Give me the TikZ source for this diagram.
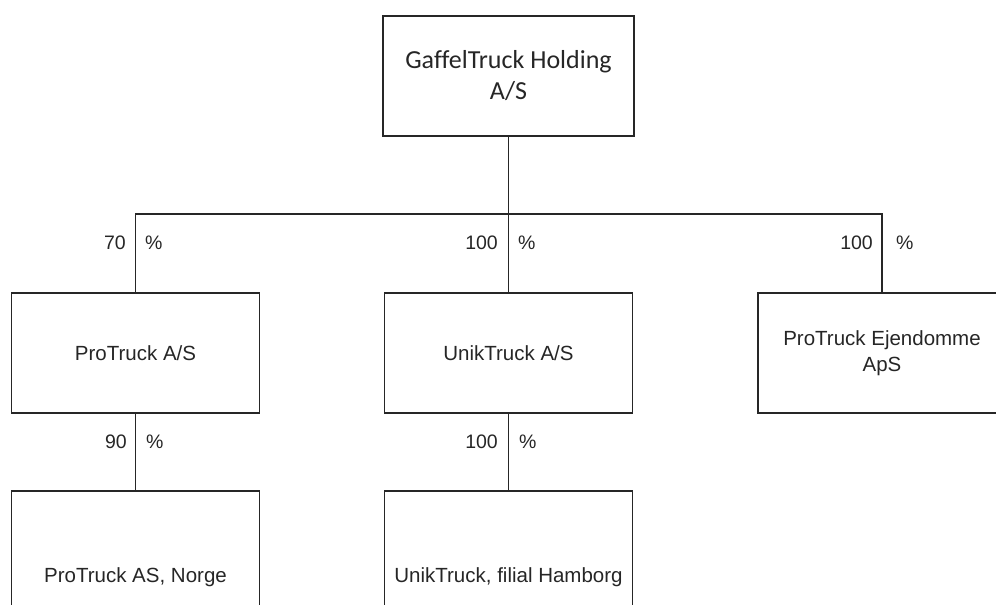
\documentclass[tikz,border=0pt]{standalone}
\usepackage{fontspec}
\setmainfont{Liberation Sans}
\newfontfamily\calfont[Ligatures=NoCommon]{Carlito}
\begin{document}
\begin{tikzpicture}[x=1pt,y=-1pt,
  box/.style={draw=black!85, line width=1.1pt, minimum width=248pt, minimum height=120pt,
    inner sep=0pt, align=center, text=black!85, font=\fontsize{20.5}{26}\selectfont},
  wire/.style={draw=black!85, line width=1.1pt},
  pct/.style={inner sep=0pt, text=black!85, font=\fontsize{19.5}{23}\selectfont}]
\useasboundingbox (0,0) rectangle (996,605);
\clip (0,0) rectangle (996,605);
% boxes
\node[box, minimum width=251pt, font=\calfont\fontsize{26}{31}\selectfont] (top) at (508.5,76) {GaffelTruck Holding\\A/S};
\node[box] (pro) at (135.5,353) {ProTruck A/S};
\node[box] (unik) at (508.5,353) {UnikTruck A/S};
\node[box] (ejd) at (882,353) {ProTruck Ejendomme\\ApS};
\node[box, minimum height=172pt] (norge) at (135.5,577) {ProTruck AS, Norge};
\node[box, minimum height=172pt] (hamb) at (508.5,577) {UnikTruck, filial Hamborg};
% connectors
\coordinate (bus) at (508.5,214);
\draw[wire] (top.south) -- (unik.north);
\draw[wire] (pro.north) -- (pro.north |- bus) -- (ejd.north |- bus) -- (ejd.north);
\draw[wire] (pro.south) -- (norge.north);
\draw[wire] (unik.south) -- (hamb.north);
% percentages
\node[pct, anchor=base east] (p1n) at (126,249) {70};
\node[pct, anchor=base west] (p1p) at (145,249) {\%};
\node[pct, anchor=base east] (p2n) at (498,249) {100};
\node[pct, anchor=base west] (p2p) at (518,249) {\%};
\node[pct, anchor=base east] (p3n) at (873,249) {100};
\node[pct, anchor=base west] (p3p) at (896,249) {\%};
\node[pct, anchor=base east] (p4n) at (127,448) {90};
\node[pct, anchor=base west] (p4p) at (146,448) {\%};
\node[pct, anchor=base east] (p5n) at (498,448) {100};
\node[pct, anchor=base west] (p5p) at (519,448) {\%};
\end{tikzpicture}
\end{document}
